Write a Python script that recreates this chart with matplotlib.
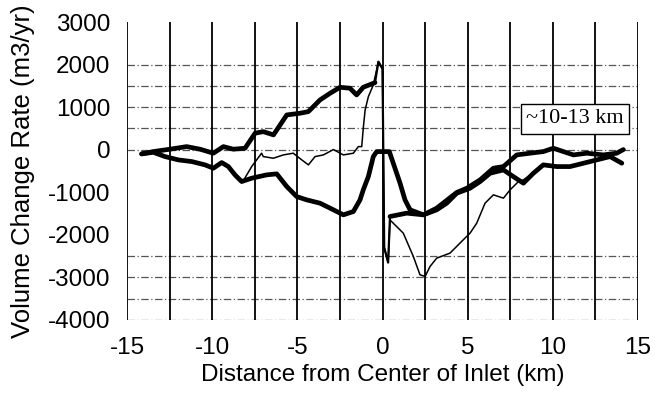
import numpy as np
import matplotlib.pyplot as plt

plt.rcParams['font.family'] = ['Liberation Sans', 'DejaVu Sans']
plt.rcParams['axes.unicode_minus'] = False

# thick line, upper on the left, spike at the inlet, lower on the right
xa = [-14.14, -13.46, -12.48, -11.5, -10.71, -9.93, -9.34, -8.76, -8.07, -7.48, -7.0, -6.4,
      -5.62, -4.84, -4.35, -3.67, -3.08, -2.49, -1.91, -1.52, -1.13, -0.44, -0.24,
      0.0, 0.1, 0.33, 0.44, 1.42, 2.4, 3.18, 3.77, 4.36, 5.14, 5.73, 6.32, 7.1, 7.68,
      8.27, 8.86, 9.44, 10.23, 11.01, 11.8, 12.58, 13.36, 14.05]
ya = [-98, -44, 12, 73, 12, -82, 73, 12, 35, 388, 425, 348,
      817, 857, 895, 1169, 1326, 1467, 1444, 1287, 1467, 1576, 2068,
      1900, -2300, -2650, -1569, -1490, -1530, -1412, -1256, -1021, -904, -748, -552, -474, -631,
      -786, -552, -356, -396, -396, -317, -239, -161, -317]

# thick line, lower on the left, flat top at the inlet, upper on the right
xb = [-14.14, -13.46, -12.77, -11.99, -11.2, -10.42, -9.93, -9.44, -9.05, -8.66, -8.27, -7.68,
      -6.8, -6.21, -5.62, -5.04, -4.45, -3.67, -2.88, -2.3, -1.71, -1.32, -1.13, -0.83,
      -0.54, -0.34, 0.4, 1.03, 1.32, 1.62, 2.4, 3.18, 4.36, 4.95, 5.73, 6.51, 7.1, 7.88,
      8.66, 9.44, 10.03, 10.62, 11.21, 11.99, 12.97, 13.75, 14.14]
yb = [-98, -60, -161, -239, -278, -356, -434, -302, -396, -591, -748, -669,
      -591, -567, -865, -1100, -1178, -1256, -1412, -1530, -1452, -1178, -943, -630,
      -161, -44, -44, -786, -1178, -1412, -1530, -1373, -1004, -904, -708, -434, -396, -122,
      -82, -44, 35, -44, -122, -82, -122, -82, 4]

# thin line
xc = [-14.14, -13.46, -12.77, -11.99, -11.2, -10.42, -9.93, -9.44, -9.05, -8.66, -8.2,
      -7.68, -7.1, -7.0, -6.41, -5.82, -5.24, -4.74, -4.35, -3.96, -3.47, -2.88, -2.3,
      -1.71, -1.42, -1.22, -1.12, -1.02, -0.83, -0.54, -0.24, 0.0, 0.1, 0.33, 0.44,
      1.22, 1.81, 2.2, 2.5, 2.79, 3.18, 3.96, 4.74, 5.14, 5.53, 6.02, 6.51, 7.1, 7.49,
      7.98, 8.27, 8.86, 9.44, 10.23, 11.01, 11.8, 12.58, 13.36, 14.05]
yc = [-98, -60, -161, -239, -278, -356, -434, -302, -396, -591, -748,
      -396, -82, -161, -200, -122, -82, -239, -356, -161, -122, 4, -122,
      -82, 73, 73, 543, 935, 1247, 1521, 2068, 1900, -2300, -2650, -1650,
      -1960, -2508, -2938, -2977, -2743, -2547, -2430, -2117, -1960, -1726, -1256, -1060, -1138, -943,
      -748, -708, -552, -356, -396, -396, -317, -239, -161, -317]

hlines = [2000, 1500, 1000, 500, 0, -2500, -3000, -3500, -4000]

fig = plt.figure(figsize=(6.57, 3.98), dpi=100)
ax = fig.add_axes([0.1933, 0.196, 0.7778, 0.7487])

for h in hlines:
    ax.axhline(h, color='#555555', lw=0.9, ls=(0, (6, 2, 1, 2)), zorder=1)

ax.plot(xc, yc, color='black', lw=1.1, zorder=3)
# spike drawn thin, rest of the series thick
ax.plot(xa[21:27], ya[21:27], color='black', lw=1.6, zorder=4)
ax.plot(xa[:22], ya[:22], color='black', lw=3.4, solid_joinstyle='round',
        solid_capstyle='round', zorder=4)
ax.plot(xa[26:], ya[26:], color='black', lw=3.4, solid_joinstyle='round',
        solid_capstyle='round', zorder=4)
ax.plot(xb, yb, color='black', lw=3.4, solid_joinstyle='round',
        solid_capstyle='round', zorder=4)

ax.set_xlim(-15, 15)
ax.set_ylim(-4000, 3000)
ax.set_xticks(np.arange(-15, 16, 5))
ax.set_xticks(np.arange(-15, 16, 2.5), minor=True)
ax.set_yticks(np.arange(-4000, 3001, 1000))
ax.grid(axis='x', which='both', color='black', lw=1.3, zorder=2)
ax.tick_params(which='both', length=0)
ax.tick_params(axis='y', pad=12, labelsize=17.5)
ax.tick_params(axis='x', pad=12, labelsize=17.5)
for s in ax.spines.values():
    s.set_visible(False)
ax.set_axisbelow(False)

ax.set_xlabel('Distance from Center of Inlet (km)', fontsize=17.5, labelpad=4)
ax.set_ylabel('Volume Change Rate (m3/yr)', fontsize=18.5, labelpad=9)

ax.text(11.3, 723, '~10-13 km', family='Liberation Serif', fontsize=16,
        ha='center', va='center', zorder=5,
        bbox=dict(boxstyle='square,pad=0.25', fc='white', ec='black', lw=1))

fig.savefig('out.png', dpi=100)
